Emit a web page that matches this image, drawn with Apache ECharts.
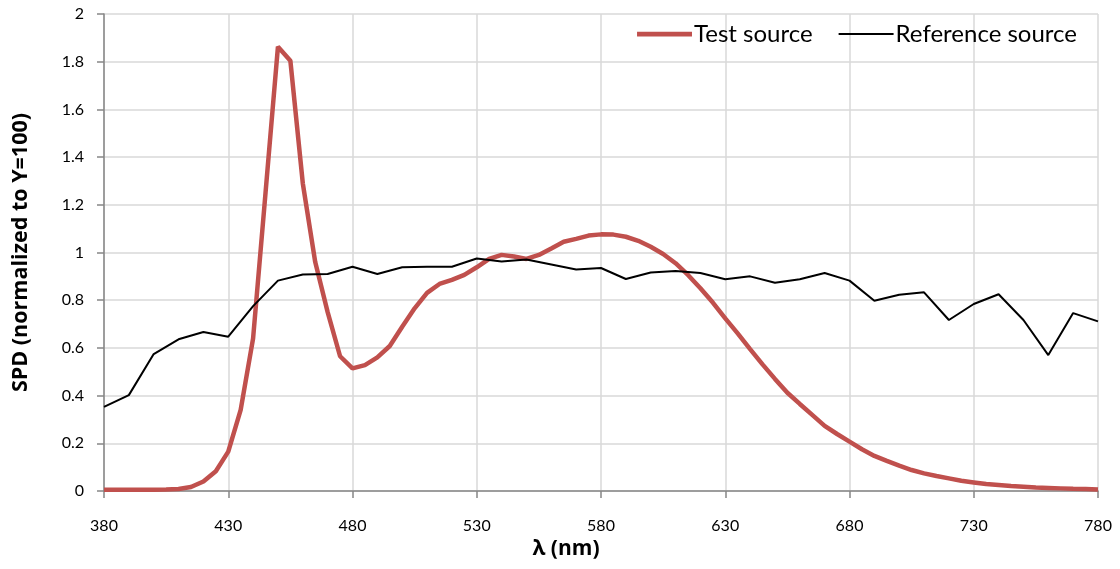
<!DOCTYPE html>
<html>
<head>
<meta charset="utf-8">
<script src="https://cdn.jsdelivr.net/npm/echarts@6/dist/echarts.min.js"></script>
<style>
html,body{margin:0;padding:0;background:#fff;}
#chart{width:1120px;height:569px;}
</style>
</head>
<body>
<div id="chart"></div>
<script>
const testWavelengths = [380,385,390,395,400,405,410,415,420,425,430,435,440,445,450,455,460,465,470,475,480,485,490,495,500,505,510,515,520,525,530,535,540,545,550,555,560,565,570,575,580,585,590,595,600,605,610,615,620,625,630,635,640,645,650,655,660,665,670,675,680,685,690,695,700,705,710,715,720,725,730,735,740,745,750,755,760,765,770,775,780];
const testValues = [0.005,0.005,0.005,0.005,0.005,0.006,0.008,0.017,0.040,0.083,0.165,0.340,0.640,1.250,1.863,1.804,1.290,0.960,0.750,0.565,0.514,0.528,0.560,0.608,0.689,0.766,0.831,0.868,0.885,0.906,0.938,0.973,0.990,0.983,0.973,0.990,1.017,1.045,1.057,1.071,1.076,1.075,1.066,1.049,1.024,0.994,0.955,0.906,0.850,0.790,0.724,0.661,0.595,0.531,0.470,0.412,0.365,0.319,0.273,0.239,0.207,0.175,0.147,0.126,0.106,0.088,0.074,0.063,0.053,0.043,0.036,0.029,0.025,0.021,0.018,0.015,0.013,0.011,0.009,0.008,0.006];
const refWavelengths = [380,390,400,410,420,430,440,450,460,470,480,490,500,510,520,530,540,550,560,570,580,590,600,610,620,630,640,650,660,670,680,690,700,710,720,730,740,750,760,770,780];
const refValues = [0.353,0.402,0.574,0.636,0.667,0.647,0.775,0.882,0.908,0.910,0.940,0.910,0.938,0.940,0.940,0.975,0.962,0.971,0.950,0.929,0.935,0.889,0.916,0.922,0.914,0.888,0.900,0.873,0.888,0.914,0.882,0.798,0.823,0.833,0.717,0.784,0.825,0.717,0.570,0.746,0.711];
const seriesNames = ['Test source','Reference source'];
const xTitle = 'λ (nm)';
const yTitle = 'SPD (normalized to Y=100)';

const FONT = 'Lato, "Open Sans", "Liberation Sans", sans-serif';
const TFONT = '"Open Sans", Lato, sans-serif';
// legend icons: invisible corner dots fix the bounding box, bar gives line thickness
const iconThick = 'path://M0,0h0.01v0.01h-0.01zM0,14h0.01v0.01h-0.01zM0,4.8h55v4.6h-55z';
const iconThin = 'path://M0,0h0.01v0.01h-0.01zM0,14h0.01v0.01h-0.01zM0,6h55v2h-55z';
const chart = echarts.init(document.getElementById('chart'), null, {renderer:'canvas'});
chart.setOption({
  animation:false,
  backgroundColor:'#fff',
  grid:{left:104,right:22,top:14,bottom:78,containLabel:false},
  legend:{
    data:[
      {name:seriesNames[0],icon:iconThick,itemStyle:{color:'#C0504D'}},
      {name:seriesNames[1],icon:iconThin,itemStyle:{color:'#000'}}
    ],
    top:17,right:38,
    itemWidth:55,itemHeight:14,itemGap:26,
    textStyle:{fontFamily:FONT,fontSize:24,color:'#000',padding:[0,0,0,-3]}
  },
  xAxis:{
    type:'value',min:380,max:780,interval:50,
    name:xTitle,nameLocation:'middle',nameGap:48,
    nameTextStyle:{fontFamily:TFONT,fontSize:21,fontWeight:'bold',color:'#000',padding:[0,70,0,0]},
    axisLine:{show:true,lineStyle:{color:'#868686',width:1.5}},
    axisTick:{show:true,length:7,lineStyle:{color:'#868686',width:1.5}},
    axisLabel:{fontFamily:FONT,fontSize:16,color:'#000',margin:27},
    splitLine:{show:true,lineStyle:{color:'#d9d9d9',width:1.5}}
  },
  yAxis:{
    type:'value',min:0,max:2,interval:0.2,
    name:yTitle,nameLocation:'middle',nameGap:72,
    nameTextStyle:{fontFamily:TFONT,fontSize:21.5,fontWeight:'bold',color:'#000'},
    axisLine:{show:true,lineStyle:{color:'#868686',width:1.5}},
    axisTick:{show:true,length:7,lineStyle:{color:'#868686',width:1.5}},
    axisLabel:{fontFamily:FONT,fontSize:16,color:'#000',margin:20},
    splitLine:{show:true,lineStyle:{color:'#d9d9d9',width:1.5}}
  },
  series:[
    {name:seriesNames[0],type:'line',symbol:'none',z:2,
     data:testWavelengths.map((w,i)=>[w,testValues[i]]),
     lineStyle:{color:'#C0504D',width:4.5},itemStyle:{color:'#C0504D'}},
    {name:seriesNames[1],type:'line',symbol:'none',z:3,
     data:refWavelengths.map((w,i)=>[w,refValues[i]]),
     lineStyle:{color:'#000',width:2},itemStyle:{color:'#000'}}
  ]
});
</script>
</body>
</html>
